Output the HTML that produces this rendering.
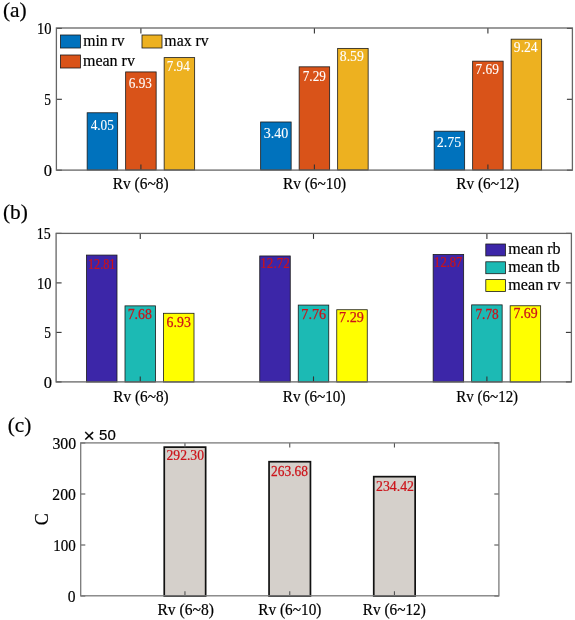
<!DOCTYPE html>
<html><head><meta charset="utf-8"><title>Bar charts</title><style>
html,body{margin:0;padding:0;background:#fff;width:575px;height:620px;overflow:hidden;}
svg{display:block;will-change:transform;}
</style></head><body>
<svg width="575" height="620" viewBox="0 0 575 620">
<rect x="0" y="0" width="575" height="620" fill="#fff"/>
<rect x="87.15" y="112.77" width="30.5" height="57.23" fill="#0072BD" stroke="#1a1a1a" stroke-width="0.8"/>
<rect x="125.65" y="71.93" width="30.5" height="98.07" fill="#D95319" stroke="#1a1a1a" stroke-width="0.8"/>
<rect x="164.15" y="57.61" width="30.5" height="112.39" fill="#EDB120" stroke="#1a1a1a" stroke-width="0.8"/>
<rect x="260.65" y="121.99" width="30.5" height="48.01" fill="#0072BD" stroke="#1a1a1a" stroke-width="0.8"/>
<rect x="299.15" y="66.83" width="30.5" height="103.17" fill="#D95319" stroke="#1a1a1a" stroke-width="0.8"/>
<rect x="337.65" y="48.39" width="30.5" height="121.61" fill="#EDB120" stroke="#1a1a1a" stroke-width="0.8"/>
<rect x="434.15" y="131.2" width="30.5" height="38.8" fill="#0072BD" stroke="#1a1a1a" stroke-width="0.8"/>
<rect x="472.65" y="61.16" width="30.5" height="108.84" fill="#D95319" stroke="#1a1a1a" stroke-width="0.8"/>
<rect x="511.15" y="39.18" width="30.5" height="130.82" fill="#EDB120" stroke="#1a1a1a" stroke-width="0.8"/>
<text transform="translate(90.64,129.77) scale(0.937,1)" font-size="14.2" fill="#fff" stroke="#fff" stroke-width="0.1" font-family='"Liberation Serif", serif'>4.05</text>
<text transform="translate(128.73,87.95) scale(0.933,1)" font-size="14.2" fill="#fff" stroke="#fff" stroke-width="0.1" font-family='"Liberation Serif", serif'>6.93</text>
<text transform="translate(166.73,70.85) scale(0.929,1)" font-size="14.2" fill="#fff" stroke="#fff" stroke-width="0.1" font-family='"Liberation Serif", serif'>7.94</text>
<text transform="translate(263.63,137.82) scale(0.990,1)" font-size="14.2" fill="#fff" stroke="#fff" stroke-width="0.1" font-family='"Liberation Serif", serif'>3.40</text>
<text transform="translate(302.73,81.35) scale(0.930,1)" font-size="14.2" fill="#fff" stroke="#fff" stroke-width="0.1" font-family='"Liberation Serif", serif'>7.29</text>
<text transform="translate(339.78,61.22) scale(0.969,1)" font-size="14.2" fill="#fff" stroke="#fff" stroke-width="0.1" font-family='"Liberation Serif", serif'>8.59</text>
<text transform="translate(436.68,147.1) scale(0.989,1)" font-size="14.2" fill="#fff" stroke="#fff" stroke-width="0.1" font-family='"Liberation Serif", serif'>2.75</text>
<text transform="translate(475.42,74.45) scale(0.943,1)" font-size="14.2" fill="#fff" stroke="#fff" stroke-width="0.1" font-family='"Liberation Serif", serif'>7.69</text>
<text transform="translate(513.86,51.75) scale(0.956,1)" font-size="14.2" fill="#fff" stroke="#fff" stroke-width="0.1" font-family='"Liberation Serif", serif'>9.24</text>
<line x1="56.4" y1="170.2" x2="61.9" y2="170.2" stroke="#333" stroke-width="1.1"/>
<line x1="572.4" y1="170.2" x2="566.9" y2="170.2" stroke="#333" stroke-width="1.1"/>
<line x1="56.4" y1="99.3" x2="61.9" y2="99.3" stroke="#333" stroke-width="1.1"/>
<line x1="572.4" y1="99.3" x2="566.9" y2="99.3" stroke="#333" stroke-width="1.1"/>
<line x1="56.4" y1="28.4" x2="61.9" y2="28.4" stroke="#333" stroke-width="1.1"/>
<line x1="572.4" y1="28.4" x2="566.9" y2="28.4" stroke="#333" stroke-width="1.1"/>
<line x1="140.9" y1="170.1" x2="140.9" y2="164.6" stroke="#333" stroke-width="1.1"/>
<line x1="140.9" y1="28" x2="140.9" y2="33.5" stroke="#333" stroke-width="1.1"/>
<line x1="314.4" y1="170.1" x2="314.4" y2="164.6" stroke="#333" stroke-width="1.1"/>
<line x1="314.4" y1="28" x2="314.4" y2="33.5" stroke="#333" stroke-width="1.1"/>
<line x1="487.9" y1="170.1" x2="487.9" y2="164.6" stroke="#333" stroke-width="1.1"/>
<line x1="487.9" y1="28" x2="487.9" y2="33.5" stroke="#333" stroke-width="1.1"/>
<rect x="56.4" y="28" width="516" height="142.1" fill="none" stroke="#666" stroke-width="1.3"/>
<text transform="translate(37.12,34.24) scale(0.891,1)" font-size="16.3" fill="#000" stroke="#000" stroke-width="0.2" font-family='"Liberation Serif", serif'>10</text>
<text transform="translate(44.32,105.36) scale(0.822,1)" font-size="16.3" fill="#000" stroke="#000" stroke-width="0.2" font-family='"Liberation Serif", serif'>5</text>
<text transform="translate(43.67,176.34) scale(1.013,1)" font-size="16.3" fill="#000" stroke="#000" stroke-width="0.2" font-family='"Liberation Serif", serif'>0</text>
<text transform="translate(112.86,189.42) scale(0.943,1)" font-size="16.3" fill="#000" stroke="#000" stroke-width="0.2" font-family='"Liberation Serif", serif'>Rv (6~8)</text>
<text transform="translate(283.06,189.37) scale(0.939,1)" font-size="16.3" fill="#000" stroke="#000" stroke-width="0.2" font-family='"Liberation Serif", serif'>Rv (6~10)</text>
<text transform="translate(456.36,189.47) scale(0.936,1)" font-size="16.3" fill="#000" stroke="#000" stroke-width="0.2" font-family='"Liberation Serif", serif'>Rv (6~12)</text>
<rect x="60.5" y="35" width="20" height="13" fill="#0072BD" stroke="#1a1a1a" stroke-width="0.8"/>
<rect x="60.5" y="55" width="20" height="13" fill="#D95319" stroke="#1a1a1a" stroke-width="0.8"/>
<rect x="142" y="35" width="20" height="13" fill="#EDB120" stroke="#1a1a1a" stroke-width="0.8"/>
<text transform="translate(83.17,46.32) scale(0.984,1)" font-size="16" fill="#000" stroke="#000" stroke-width="0.2" font-family='"Liberation Serif", serif'>min rv</text>
<text x="82.97" y="65.59" font-size="16" fill="#000" stroke="#000" stroke-width="0.2" font-family='"Liberation Serif", serif'>mean rv</text>
<text transform="translate(164.37,46.39) scale(0.988,1)" font-size="16" fill="#000" stroke="#000" stroke-width="0.2" font-family='"Liberation Serif", serif'>max rv</text>
<text x="2.96" y="17.25" font-size="21.4" fill="#000" stroke="#000" stroke-width="0.2" font-family='"Liberation Serif", serif'>(a)</text>
<rect x="86.5" y="255.08" width="30.5" height="126.92" fill="#3C26A8" stroke="#1a1a1a" stroke-width="0.8"/>
<rect x="125" y="305.87" width="30.5" height="76.13" fill="#1CBAB4" stroke="#1a1a1a" stroke-width="0.8"/>
<rect x="163.5" y="313.29" width="30.5" height="68.71" fill="#FFFF00" stroke="#1a1a1a" stroke-width="0.8"/>
<rect x="259.75" y="255.97" width="30.5" height="126.03" fill="#3C26A8" stroke="#1a1a1a" stroke-width="0.8"/>
<rect x="298.25" y="305.08" width="30.5" height="76.92" fill="#1CBAB4" stroke="#1a1a1a" stroke-width="0.8"/>
<rect x="336.75" y="309.73" width="30.5" height="72.27" fill="#FFFF00" stroke="#1a1a1a" stroke-width="0.8"/>
<rect x="433.15" y="254.49" width="30.5" height="127.51" fill="#3C26A8" stroke="#1a1a1a" stroke-width="0.8"/>
<rect x="471.65" y="304.88" width="30.5" height="77.12" fill="#1CBAB4" stroke="#1a1a1a" stroke-width="0.8"/>
<rect x="510.15" y="305.77" width="30.5" height="76.23" fill="#FFFF00" stroke="#1a1a1a" stroke-width="0.8"/>
<text transform="translate(87.93,268.62) scale(0.861,1)" font-size="14.2" fill="#CC1219" stroke="#CC1219" stroke-width="0.25" font-family='"Liberation Serif", serif'>12.81</text>
<text transform="translate(127.69,318.57) scale(0.975,1)" font-size="14.2" fill="#CC1219" stroke="#CC1219" stroke-width="0.25" font-family='"Liberation Serif", serif'>7.68</text>
<text transform="translate(166.6,326.55) scale(0.975,1)" font-size="14.2" fill="#CC1219" stroke="#CC1219" stroke-width="0.25" font-family='"Liberation Serif", serif'>6.93</text>
<text transform="translate(260.35,268.25) scale(0.919,1)" font-size="14.2" fill="#CC1219" stroke="#CC1219" stroke-width="0.25" font-family='"Liberation Serif", serif'>12.72</text>
<text x="301.37" y="318.55" font-size="14.2" fill="#CC1219" stroke="#CC1219" stroke-width="0.25" font-family='"Liberation Serif", serif'>7.76</text>
<text x="339.06" y="322.45" font-size="14.2" fill="#CC1219" stroke="#CC1219" stroke-width="0.25" font-family='"Liberation Serif", serif'>7.29</text>
<text transform="translate(434.1,267.07) scale(0.885,1)" font-size="14.2" fill="#CC1219" stroke="#CC1219" stroke-width="0.25" font-family='"Liberation Serif", serif'>12.87</text>
<text transform="translate(475.42,318.67) scale(0.941,1)" font-size="14.2" fill="#CC1219" stroke="#CC1219" stroke-width="0.25" font-family='"Liberation Serif", serif'>7.78</text>
<text transform="translate(513.39,318.3) scale(0.973,1)" font-size="14.2" fill="#CC1219" stroke="#CC1219" stroke-width="0.25" font-family='"Liberation Serif", serif'>7.69</text>
<line x1="56.1" y1="381.9" x2="61.6" y2="381.9" stroke="#333" stroke-width="1.1"/>
<line x1="571.4" y1="381.9" x2="565.9" y2="381.9" stroke="#333" stroke-width="1.1"/>
<line x1="56.1" y1="332.4" x2="61.6" y2="332.4" stroke="#333" stroke-width="1.1"/>
<line x1="571.4" y1="332.4" x2="565.9" y2="332.4" stroke="#333" stroke-width="1.1"/>
<line x1="56.1" y1="282.9" x2="61.6" y2="282.9" stroke="#333" stroke-width="1.1"/>
<line x1="571.4" y1="282.9" x2="565.9" y2="282.9" stroke="#333" stroke-width="1.1"/>
<line x1="56.1" y1="233.4" x2="61.6" y2="233.4" stroke="#333" stroke-width="1.1"/>
<line x1="571.4" y1="233.4" x2="565.9" y2="233.4" stroke="#333" stroke-width="1.1"/>
<line x1="140.25" y1="381.9" x2="140.25" y2="376.4" stroke="#333" stroke-width="1.1"/>
<line x1="140.25" y1="233.4" x2="140.25" y2="238.9" stroke="#333" stroke-width="1.1"/>
<line x1="313.5" y1="381.9" x2="313.5" y2="376.4" stroke="#333" stroke-width="1.1"/>
<line x1="313.5" y1="233.4" x2="313.5" y2="238.9" stroke="#333" stroke-width="1.1"/>
<line x1="486.9" y1="381.9" x2="486.9" y2="376.4" stroke="#333" stroke-width="1.1"/>
<line x1="486.9" y1="233.4" x2="486.9" y2="238.9" stroke="#333" stroke-width="1.1"/>
<rect x="56.1" y="233.4" width="515.3" height="148.5" fill="none" stroke="#666" stroke-width="1.3"/>
<text transform="translate(36.87,239.45) scale(0.857,1)" font-size="16.3" fill="#000" stroke="#000" stroke-width="0.2" font-family='"Liberation Serif", serif'>15</text>
<text transform="translate(37.12,288.89) scale(0.891,1)" font-size="16.3" fill="#000" stroke="#000" stroke-width="0.2" font-family='"Liberation Serif", serif'>10</text>
<text transform="translate(44.32,337.96) scale(0.822,1)" font-size="16.3" fill="#000" stroke="#000" stroke-width="0.2" font-family='"Liberation Serif", serif'>5</text>
<text transform="translate(43.67,387.84) scale(1.013,1)" font-size="16.3" fill="#000" stroke="#000" stroke-width="0.2" font-family='"Liberation Serif", serif'>0</text>
<text transform="translate(113.36,401.97) scale(0.936,1)" font-size="16.3" fill="#000" stroke="#000" stroke-width="0.2" font-family='"Liberation Serif", serif'>Rv (6~8)</text>
<text transform="translate(282.86,401.97) scale(0.933,1)" font-size="16.3" fill="#000" stroke="#000" stroke-width="0.2" font-family='"Liberation Serif", serif'>Rv (6~10)</text>
<text transform="translate(456.37,401.97) scale(0.919,1)" font-size="16.3" fill="#000" stroke="#000" stroke-width="0.2" font-family='"Liberation Serif", serif'>Rv (6~12)</text>
<rect x="485.8" y="244" width="19.6" height="11.9" fill="#3C26A8" stroke="#1a1a1a" stroke-width="0.8"/>
<rect x="485.8" y="261.8" width="19.6" height="11.9" fill="#1CBAB4" stroke="#1a1a1a" stroke-width="0.8"/>
<rect x="485.8" y="279.6" width="19.6" height="11.9" fill="#FFFF00" stroke="#1a1a1a" stroke-width="0.8"/>
<text transform="translate(508.36,253.87) scale(1.005,1)" font-size="16" fill="#000" stroke="#000" stroke-width="0.2" font-family='"Liberation Serif", serif'>mean rb</text>
<text transform="translate(508.36,272.17) scale(1.007,1)" font-size="16" fill="#000" stroke="#000" stroke-width="0.2" font-family='"Liberation Serif", serif'>mean tb</text>
<text transform="translate(508.36,290.29) scale(1.005,1)" font-size="16" fill="#000" stroke="#000" stroke-width="0.2" font-family='"Liberation Serif", serif'>mean rv</text>
<text transform="translate(2.96,219.29) scale(1.007,1)" font-size="21.17" fill="#000" stroke="#000" stroke-width="0.2" font-family='"Liberation Serif", serif'>(b)</text>
<rect x="164.25" y="447.13" width="41.4" height="148.87" fill="#D5D0CB" stroke="#111" stroke-width="1.7"/>
<rect x="269.05" y="461.72" width="41.4" height="134.28" fill="#D5D0CB" stroke="#111" stroke-width="1.7"/>
<rect x="373.75" y="476.65" width="41.4" height="119.35" fill="#D5D0CB" stroke="#111" stroke-width="1.7"/>
<text transform="translate(166.5,459.82) scale(0.961,1)" font-size="14.2" fill="#CC1219" stroke="#CC1219" stroke-width="0.25" font-family='"Liberation Serif", serif'>292.30</text>
<text transform="translate(271.01,475.87) scale(0.948,1)" font-size="14.2" fill="#CC1219" stroke="#CC1219" stroke-width="0.25" font-family='"Liberation Serif", serif'>263.68</text>
<text transform="translate(375.99,491.25) scale(0.972,1)" font-size="14.2" fill="#CC1219" stroke="#CC1219" stroke-width="0.25" font-family='"Liberation Serif", serif'>234.42</text>
<line x1="80.7" y1="596" x2="85.3" y2="596" stroke="#555" stroke-width="1.1"/>
<line x1="498.9" y1="596" x2="494.3" y2="596" stroke="#555" stroke-width="1.1"/>
<line x1="80.7" y1="545" x2="85.3" y2="545" stroke="#555" stroke-width="1.1"/>
<line x1="498.9" y1="545" x2="494.3" y2="545" stroke="#555" stroke-width="1.1"/>
<line x1="80.7" y1="494" x2="85.3" y2="494" stroke="#555" stroke-width="1.1"/>
<line x1="498.9" y1="494" x2="494.3" y2="494" stroke="#555" stroke-width="1.1"/>
<line x1="80.7" y1="443" x2="85.3" y2="443" stroke="#555" stroke-width="1.1"/>
<line x1="498.9" y1="443" x2="494.3" y2="443" stroke="#555" stroke-width="1.1"/>
<line x1="184.95" y1="595.8" x2="184.95" y2="591.2" stroke="#555" stroke-width="1.1"/>
<line x1="184.95" y1="442.9" x2="184.95" y2="447.5" stroke="#555" stroke-width="1.1"/>
<line x1="289.75" y1="595.8" x2="289.75" y2="591.2" stroke="#555" stroke-width="1.1"/>
<line x1="289.75" y1="442.9" x2="289.75" y2="447.5" stroke="#555" stroke-width="1.1"/>
<line x1="394.45" y1="595.8" x2="394.45" y2="591.2" stroke="#555" stroke-width="1.1"/>
<line x1="394.45" y1="442.9" x2="394.45" y2="447.5" stroke="#555" stroke-width="1.1"/>
<rect x="80.7" y="442.9" width="418.2" height="152.9" fill="none" stroke="#7a7a7a" stroke-width="1.3"/>
<text transform="translate(52.44,448.89) scale(0.972,1)" font-size="16.3" fill="#000" stroke="#000" stroke-width="0.2" font-family='"Liberation Serif", serif'>300</text>
<text transform="translate(52.31,500.09) scale(0.965,1)" font-size="16.3" fill="#000" stroke="#000" stroke-width="0.2" font-family='"Liberation Serif", serif'>200</text>
<text transform="translate(53.28,550.94) scale(0.924,1)" font-size="16.3" fill="#000" stroke="#000" stroke-width="0.2" font-family='"Liberation Serif", serif'>100</text>
<text transform="translate(67.71,601.94) scale(0.955,1)" font-size="16.3" fill="#000" stroke="#000" stroke-width="0.2" font-family='"Liberation Serif", serif'>0</text>
<text transform="translate(157.45,615.12) scale(0.957,1)" font-size="16.3" fill="#000" stroke="#000" stroke-width="0.2" font-family='"Liberation Serif", serif'>Rv (6~8)</text>
<text transform="translate(258.36,615.12) scale(0.939,1)" font-size="16.3" fill="#000" stroke="#000" stroke-width="0.2" font-family='"Liberation Serif", serif'>Rv (6~10)</text>
<text transform="translate(362.76,615.12) scale(0.939,1)" font-size="16.3" fill="#000" stroke="#000" stroke-width="0.2" font-family='"Liberation Serif", serif'>Rv (6~12)</text>
<text transform="translate(83.56,441.62) scale(1.104,1)" font-size="17.48" fill="#000" stroke="#000" stroke-width="0.2" font-family='"Liberation Sans", sans-serif'>×</text>
<text x="99.1" y="439.55" font-size="14.97" fill="#000" stroke="#000" stroke-width="0.2" font-family='"Liberation Sans", sans-serif'>50</text>
<text transform="translate(47.7,519.3) rotate(-90)" font-size="18" text-anchor="middle" fill="#000" stroke="#000" stroke-width="0.2" font-family='"Liberation Serif", serif'>C</text>
<text transform="translate(7.76,432.44) scale(1.018,1)" font-size="20.95" fill="#000" stroke="#000" stroke-width="0.2" font-family='"Liberation Serif", serif'>(c)</text>
</svg>
</body></html>
